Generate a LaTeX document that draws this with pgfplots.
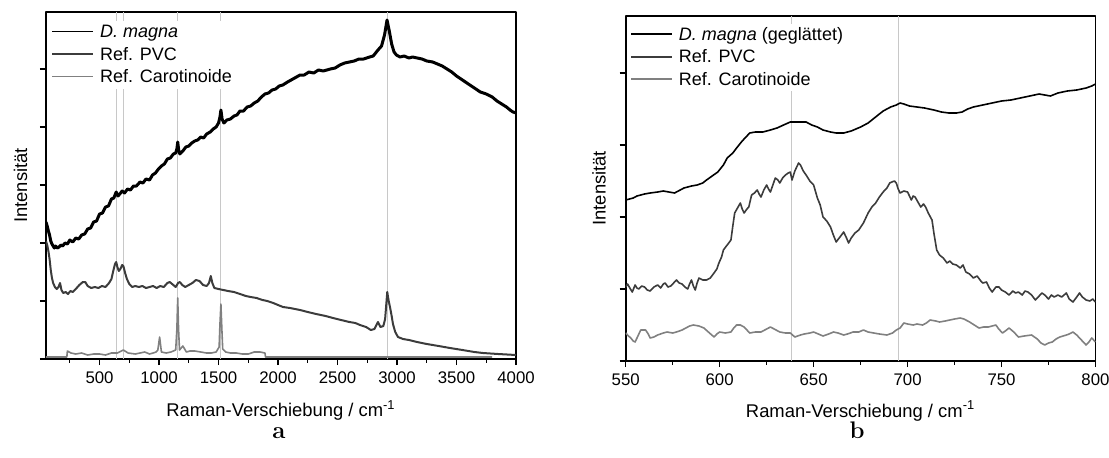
\documentclass[border=0pt]{standalone}
\usepackage{pgfplots}
\pgfplotsset{compat=1.18}
\usepackage{fontspec}
\newfontfamily\arialfont{Liberation Sans}

\definecolor{pvc}{HTML}{3C3C3C}
\definecolor{carot}{HTML}{808080}
\definecolor{guide}{HTML}{C8C8C8}

\pgfplotsset{
    ramanax/.style={
        scale only axis,
        axis line style={line width=0.9pt},
        tick align=outside, tick pos=left,
        major tick length=3pt, minor tick length=1.8pt,
        every tick/.style={black, line width=0.7pt},
        yticklabels={},
        label style={font=\arialfont\fontsize{9.2}{11}\selectfont},
        tick label style={font=\arialfont\fontsize{8.4}{10}\selectfont},
        /pgf/number format/assume math mode=true,
        /pgf/number format/1000 sep={},
        xticklabel style={anchor=base, yshift=-9pt},
        xlabel={Raman-Verschiebung / cm\textsuperscript{-1}},
        ylabel={Intensität},
        legend style={draw=none, fill=white, inner sep=0pt,
            font=\arialfont\fontsize{9}{10}\selectfont,
            row sep=0pt,
            nodes={anchor=base west, inner xsep=3pt, inner ysep=0pt,
                   text height=8.25pt, text depth=3pt}},
        legend image code/.code={\draw[##1, line width=0.8pt] (0pt,3pt) -- (20.5pt,3pt);},
        line join=round,
    },
}

\begin{document}
\begin{tikzpicture}
\useasboundingbox (0pt,0pt) rectangle (554.5pt,228.5pt);

% ---------- a: full spectrum ----------
\begin{axis}[ramanax,
    at={(23pt,49pt)}, anchor=south west,
    width=235pt, height=173.5pt,
    xmin=50, xmax=4000, ymin=0, ymax=347,
    xtick={500,1000,...,4000},
    minor xtick={250,750,...,3750},
    ytick={0,58,116,174,232,290},
    xlabel style={at={(axis description cs:0.5,-0.1671)}, anchor=base},
    ylabel style={at={(axis description cs:-0.0404,0.5)}, anchor=base},
    legend style={at={(axis description cs:0.011,0.975)}, anchor=north west},
    ]
    \addplot[guide, line width=0.5pt, forget plot] coordinates {(640,0) (640,347)};
    \addplot[guide, line width=0.5pt, forget plot] coordinates {(702,0) (702,347)};
    \addplot[guide, line width=0.5pt, forget plot] coordinates {(1157,0) (1157,347)};
    \addplot[guide, line width=0.5pt, forget plot] coordinates {(1520,0) (1520,347)};
    \addplot[guide, line width=0.5pt, forget plot] coordinates {(2916,0) (2916,347)};

    \addplot[black, line width=1.5pt] coordinates {
        (50,137) (60,133) (70,128) (80,124) (90,118) (100,115) (110,113) (120,111)
        (130,113) (145,111) (160,112) (175,114) (190,113) (210,116) (230,115) (250,119)
        (275,117) (300,121) (325,120) (350,124) (375,125) (400,130) (425,131) (450,137)
        (475,138) (500,145) (525,146) (550,152) (575,153) (600,160) (620,161) (640,167)
        (655,163) (670,165) (690,168) (710,166) (735,170) (760,169) (785,173) (810,173)
        (840,177) (865,176) (890,180) (920,179) (945,184) (970,186) (995,190) (1020,193)
        (1045,195) (1070,200) (1095,201) (1120,205) (1140,206) (1150,210) (1157,217) (1165,209)
        (1175,205) (1200,208) (1225,212) (1250,213) (1275,216) (1300,218) (1325,219) (1350,222)
        (1375,221) (1400,225) (1430,227) (1455,230) (1480,232) (1500,236) (1512,242) (1520,249)
        (1530,240) (1545,236) (1570,239) (1600,240) (1630,243) (1655,244) (1680,248) (1710,248)
        (1740,252) (1770,253) (1800,256) (1830,258) (1860,262) (1890,265) (1920,266) (1950,269)
        (1980,270) (2010,273) (2040,274) (2080,277) (2110,279) (2140,281) (2185,284) (2220,284)
        (2260,287) (2300,286) (2340,289) (2380,288) (2440,290) (2480,291) (2520,294) (2560,296)
        (2600,297) (2640,298) (2680,300) (2720,300) (2770,302) (2800,303) (2840,309) (2870,313)
        (2895,324) (2916,339) (2935,328) (2955,315) (2975,307) (2995,304) (3025,302) (3060,303)
        (3100,301) (3130,302) (3170,301) (3210,300) (3250,298) (3300,297) (3340,295) (3380,293)
        (3420,290) (3460,287) (3500,283) (3550,279) (3600,275) (3650,271) (3700,267) (3750,265)
        (3800,262) (3840,258) (3880,255) (3920,252) (3950,249) (3975,247) (4000,246)
    };
    \addlegendentry{\textit{D. magna}}

    \addplot[pvc, line width=1pt] coordinates {
        (50,118) (60,114) (70,108) (80,100) (90,89) (100,81) (110,76) (125,72)
        (140,70) (155,72) (168,76) (180,69) (195,66) (215,67) (235,65) (255,68)
        (275,67) (300,70) (330,74) (360,77) (380,77) (400,73) (430,71) (460,72)
        (490,71) (520,73) (550,72) (580,76) (600,80) (615,88) (630,95) (640,97)
        (650,92) (662,88) (675,90) (690,94) (700,93) (715,86) (730,80) (750,75)
        (775,72) (800,73) (830,72) (860,73) (890,71) (920,72) (950,73) (980,71)
        (1010,73) (1040,72) (1070,76) (1090,77) (1110,75) (1140,72) (1160,76) (1175,77)
        (1195,74) (1220,72) (1250,74) (1280,76) (1310,79) (1340,78) (1370,74) (1400,73)
        (1420,76) (1435,83) (1448,76) (1465,71) (1500,70) (1540,69) (1580,68) (1630,67)
        (1680,65) (1730,63) (1770,62) (1820,61) (1870,59) (1910,58) (1960,56) (2000,54)
        (2042,52) (2100,51) (2185,49) (2250,47) (2320,45) (2400,43) (2462,41) (2530,39)
        (2600,37) (2650,36) (2689,34) (2740,32) (2780,29) (2810,30) (2840,37) (2860,32)
        (2885,33) (2900,40) (2910,55) (2918,67) (2930,58) (2941,52) (2955,43) (2966,35)
        (2985,27) (3008,22) (3050,20) (3100,19) (3168,17) (3250,15) (3350,13) (3445,11)
        (3550,9) (3650,7) (3722,6) (3850,5) (4000,4)
    };
    \addlegendentry{Ref. PVC}

    \addplot[carot, line width=0.8pt] coordinates {
        (50,2) (225,2) (230,8) (260,6) (300,5) (350,6) (400,4) (450,5) (500,5) (550,4)
        (600,6) (650,6) (700,9) (740,6) (800,5) (840,6) (880,7) (920,5) (950,6) (975,7)
        (990,9) (1005,22) (1020,7) (1060,6) (1100,7) (1140,9) (1150,30) (1157,61) (1164,30)
        (1172,9) (1200,13) (1230,7) (1260,8) (1300,8) (1350,7) (1400,6) (1440,6) (1480,7)
        (1505,12) (1512,35) (1520,55) (1528,30) (1535,10) (1560,7) (1600,6) (1650,6)
        (1700,5) (1750,5) (1800,7) (1850,7) (1890,6) (1895,2) (3800,2)
    };
    \addlegendentry{Ref. Carotinoide}
\end{axis}

% ---------- b: zoom 550-800 ----------
\begin{axis}[ramanax,
    at={(312.85pt,48pt)}, anchor=south west,
    width=234.9pt, height=172.65pt,
    xmin=550, xmax=800, ymin=0, ymax=345.3,
    xtick={550,600,...,800},
    minor xtick={575,625,...,775},
    ytick={0,72,144,216,288},
    xlabel style={at={(axis description cs:0.5,-0.1623)}, anchor=base},
    ylabel style={at={(axis description cs:-0.0426,0.5)}, anchor=base},
    legend style={at={(axis description cs:0.009,0.978)}, anchor=north west},
    ]
    \addplot[guide, line width=0.5pt, forget plot] coordinates {(638,0) (638,345.3)};
    \addplot[guide, line width=0.5pt, forget plot] coordinates {(695,0) (695,345.3)};

    \addplot[black, line width=0.8pt] coordinates {
        (550,161) (552,162) (554,163) (556,165) (560,167) (563,168) (567,169) (570,170)
        (573,169) (576,168) (579,171) (581,173) (585,175) (588,176) (591,178) (593,181)
        (596,185) (599,189) (602,196) (604,203) (607,208) (609,213) (612,220) (616,228)
        (619,229) (623,229) (627,231) (630.5,233) (634,236) (637.6,239) (641,239) (646,239)
        (649,236) (652,234) (655,231) (659,229) (662,228) (666,228) (670,230) (675,234)
        (679,238) (683,244) (687,250) (691,254) (694,256) (696,258) (698,257) (701,255)
        (705,254) (709,253) (714,251) (718,249) (722,248) (726,248) (729,249) (732,252)
        (735,254) (740,256) (745,258) (750,260) (755,261) (760,263) (765,265) (770,267)
        (773,266) (776,265) (780,268) (785,270) (790,271) (795,273) (798,275) (800,277)
    };
    \addlegendentry{\textit{D. magna} (geglättet)}

    \addplot[pvc, line width=0.8pt] coordinates {
        (550,74) (551,77) (552.5,72) (553.5,69) (555,76) (556,73) (557,72) (558.5,75)
        (560,74) (561.5,71) (563,70) (565,74) (567,76) (568.6,73) (570,77) (571,78)
        (572.5,74) (574,75) (575.5,78) (577,81) (578.5,78) (580,77) (581.5,74) (583,72)
        (584,77) (585,81) (586,75) (587,71) (588,78) (589,83) (591,81) (593,81)
        (595,83) (597,88) (598.5,92) (599.6,98) (601,104) (602,111) (604,116) (606,121)
        (607,135) (608,148) (609.5,153) (611,158) (612,152) (613,148) (614.5,152) (615.5,154)
        (617,166) (618.5,168) (620,171) (621,167) (622,164) (623.5,171) (625,176) (626,172)
        (627,169) (628.5,177) (629.6,183) (631,181) (632,178) (633.5,183) (635,186) (636.5,188)
        (637.6,189) (638.5,181) (640,190) (642,198) (643,196) (644.5,190) (646,186) (648,180)
        (650,176) (652,163) (653.5,156) (655,144) (657,140) (659,134) (660.5,126) (662,119)
        (664,124) (666,129) (667.5,123) (668.6,118) (670,123) (672,128) (674,131) (676.5,138)
        (678,144) (679,148) (681,154) (683,158) (685,164) (687,169) (689,173) (690.5,178)
        (691.6,179) (693,180) (694,178) (695,172) (696,168) (698,170) (700,169) (701,165)
        (702,161) (703,165) (704,164) (705.5,159) (707,154) (708.5,157) (709.6,154) (711,148)
        (713,141) (714,128) (715.5,111) (717,106) (719,103) (721,98) (722.5,100) (724,97)
        (726,96) (728,93) (729.5,96) (731,89) (733,87) (735,83) (737,85) (739,80)
        (740,78) (742,79) (743.5,73) (745,69) (747,74) (748.6,74) (750,71) (752,69)
        (754,66) (756,70) (757.5,68) (759,69) (761,66) (762.5,70) (764,69) (766,66)
        (768,61) (770,65) (771.5,68) (773,66) (775,62) (776.5,66) (778,64) (780,66)
        (782,64) (784.5,68) (786,62) (788,59) (790,64) (791.5,68) (793,64) (795,61)
        (797,60) (798.5,62) (800,59)
    };
    \addlegendentry{Ref. PVC}

    \addplot[carot, line width=0.8pt] coordinates {
        (550,28) (551.5,25) (552.7,23) (554,20) (555,19) (556.5,25) (558,31) (560.6,31)
        (562,27) (563,23) (565,24) (567,26) (570,28) (572,29) (575,28) (577,29)
        (580,31) (582,33) (584,35) (586,36) (589,35) (591.6,33) (594,29) (597,24)
        (598.5,27) (600,29) (603,28) (606,29) (607.5,33) (609,36) (611,36) (613,34)
        (615,30) (616,28) (619,29) (622,29) (625,32) (627,34) (630,31) (632,29)
        (635,28) (637.6,28) (640,24) (643,26) (645,27) (648,28) (650,29) (652.5,27)
        (655,25) (658,27) (660.6,29) (663,28) (666,26) (668,27) (671,29) (674,29)
        (676.5,31) (679,29) (682,28) (685,27) (689,26) (692,28) (694,31) (696,33)
        (698,38) (700,37) (703,36) (705,37) (708,36) (710,38) (712,41) (715,40)
        (717,39) (720,40) (722.5,41) (725,42) (728,43) (730,42) (733,39) (735.5,36)
        (738,33) (740.5,34) (743,34) (745,35) (747,36) (748.5,32) (750.5,28) (752,30)
        (754,33) (756.5,29) (759,24) (762,25) (766,26) (769,22) (771,18) (773,16)
        (775,18) (777,19) (779,22) (781,24) (784.5,26) (786,27) (788,29) (790,26)
        (791.5,23) (793,20) (795,16) (796.5,19) (798,23) (800,19)
    };
    \addlegendentry{Ref. Carotinoide}
\end{axis}

\node[anchor=base, font=\bfseries\fontsize{12}{14}\selectfont] at (139.5pt,9.5pt) {a};
\node[anchor=base, font=\bfseries\fontsize{12}{14}\selectfont] at (428.5pt,9.5pt) {b};
\end{tikzpicture}
\end{document}
